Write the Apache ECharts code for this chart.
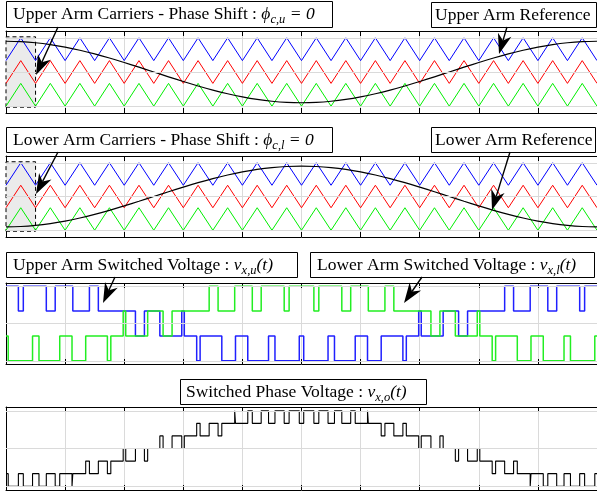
<!DOCTYPE html>
<html><head><meta charset="utf-8">
<script src="https://cdn.jsdelivr.net/npm/echarts@6/dist/echarts.min.js"></script>
<style>html,body{margin:0;padding:0;background:#fff}#c{width:597px;height:497px}</style>
</head><body><div id="c"></div>
<script>
// ---- Data ----
const carrierTimes = [0,0.5,1,1.5,2,2.5,3,3.5,4,4.5,5,5.5,6,6.5,7,7.5,8,8.5,9,9.5,10,10.5,11,11.5,12,12.5,13,13.5,14,14.5,15,15.5,16,16.5,17,17.5,18,18.5,19,19.5,20];
const blueCarrier = [0.333,1,0.333,1,0.333,1,0.333,1,0.333,1,0.333,1,0.333,1,0.333,1,0.333,1,0.333,1,0.333,1,0.333,1,0.333,1,0.333,1,0.333,1,0.333,1,0.333,1,0.333,1,0.333,1,0.333,1,0.333];
const redCarrier = [-0.333,0.333,-0.333,0.333,-0.333,0.333,-0.333,0.333,-0.333,0.333,-0.333,0.333,-0.333,0.333,-0.333,0.333,-0.333,0.333,-0.333,0.333,-0.333,0.333,-0.333,0.333,-0.333,0.333,-0.333,0.333,-0.333,0.333,-0.333,0.333,-0.333,0.333,-0.333,0.333,-0.333,0.333,-0.333,0.333,-0.333];
const greenCarrier = [-1,-0.333,-1,-0.333,-1,-0.333,-1,-0.333,-1,-0.333,-1,-0.333,-1,-0.333,-1,-0.333,-1,-0.333,-1,-0.333,-1,-0.333,-1,-0.333,-1,-0.333,-1,-0.333,-1,-0.333,-1,-0.333,-1,-0.333,-1,-0.333,-1,-0.333,-1,-0.333,-1];
const refTimes = [0,0.5,1,1.5,2,2.5,3,3.5,4,4.5,5,5.5,6,6.5,7,7.5,8,8.5,9,9.5,10,10.5,11,11.5,12,12.5,13,13.5,14,14.5,15,15.5,16,16.5,17,17.5,18,18.5,19,19.5,20];
const upperRef = [0.9,0.889,0.856,0.802,0.728,0.636,0.529,0.409,0.278,0.141,0,-0.141,-0.278,-0.409,-0.529,-0.636,-0.728,-0.802,-0.856,-0.889,-0.9,-0.889,-0.856,-0.802,-0.728,-0.636,-0.529,-0.409,-0.278,-0.141,0,0.141,0.278,0.409,0.529,0.636,0.728,0.802,0.856,0.889,0.9];
const lowerRef = [-0.9,-0.889,-0.856,-0.802,-0.728,-0.636,-0.529,-0.409,-0.278,-0.141,0,0.141,0.278,0.409,0.529,0.636,0.728,0.802,0.856,0.889,0.9,0.889,0.856,0.802,0.728,0.636,0.529,0.409,0.278,0.141,0,-0.141,-0.278,-0.409,-0.529,-0.636,-0.728,-0.802,-0.856,-0.889,-0.9];
const upperArmTimes = [0,0.419,0.586,1.364,1.665,2.261,2.823,3.125,4.38,4.684,5.206,5.948,6.034,6.453,6.569,7.303,7.766,8.182,8.884,9.102,9.925,10.075,10.898,11.116,11.818,12.234,12.697,13.431,13.547,13.966,14.052,14.794,15.316,15.62,16.875,17.177,17.739,18.335,18.636,19.414,19.581,20];
const upperArmLevels = [3,2,3,2,3,2,3,2,1,2,1,2,1,0,1,0,1,0,1,0,1,0,1,0,1,0,1,0,1,2,1,2,1,2,3,2,3,2,3,2,3,3];
const lowerArmTimes = [0,0.075,0.898,1.116,1.818,2.234,2.697,3.431,3.547,3.966,4.052,4.794,5.316,5.62,6.875,7.177,7.739,8.335,8.636,9.414,9.581,10.419,10.586,11.364,11.665,12.261,12.823,13.125,14.38,14.684,15.206,15.948,16.034,16.453,16.569,17.303,17.766,18.182,18.884,19.102,19.925,20];
const lowerArmLevels = [1,0,1,0,1,0,1,0,1,2,1,2,1,2,3,2,3,2,3,2,3,2,3,2,3,2,3,2,1,2,1,2,1,0,1,0,1,0,1,0,1,1];
const phaseTimes = [0,0.075,0.419,0.586,0.898,1.116,1.364,1.665,1.818,2.234,2.261,2.697,2.823,3.125,3.431,3.547,3.966,4.052,4.38,4.684,4.794,5.206,5.316,5.62,5.948,6.034,6.453,6.569,6.875,7.177,7.303,7.739,7.766,8.182,8.335,8.636,8.884,9.102,9.414,9.581,9.925,10.075,10.419,10.586,10.898,11.116,11.364,11.665,11.818,12.234,12.261,12.697,12.823,13.125,13.431,13.547,13.966,14.052,14.38,14.684,14.794,15.206,15.316,15.62,15.948,16.034,16.453,16.569,16.875,17.177,17.303,17.739,17.766,18.182,18.335,18.636,18.884,19.102,19.414,19.581,19.925,20];
const phaseLevels = [-2,-3,-2,-3,-2,-3,-2,-3,-2,-3,-2,-1,-2,-1,-2,-1,0,-1,0,-1,0,1,0,1,0,1,2,1,2,1,2,3,2,3,2,3,2,3,2,3,2,3,2,3,2,3,2,3,2,3,2,1,2,1,2,1,0,1,0,1,0,-1,0,-1,0,-1,-2,-1,-2,-1,-2,-3,-2,-3,-2,-3,-2,-3,-2,-3,-2,-2];
const carrierTicks = [-1,0,1];
const armTicks = [0,1.5,3];
const phaseTicks = [-3,0,3];

// ---- Chart ----
const zip = (xs, ys) => xs.map((x, i) => [x, ys[i]]);
const FONT = '"Liberation Serif","Times New Roman",serif';
const FS = 17.5;
const GRIDC = '#dadada';
const grids = [
  {left: 6, top: 31, width: 593, height: 82},
  {left: 6, top: 156, width: 593, height: 81},
  {left: 6, top: 283, width: 593, height: 81},
  {left: 6, top: 407, width: 593, height: 83}
];
const yRanges = [[-1.2, 1.2, carrierTicks], [-1.2, 1.2, carrierTicks], [-0.13, 3.13, armTicks], [-3.3, 3.3, phaseTicks]];
const xAxis = [], yAxis = [];
grids.forEach((g, gi) => {
  ['bottom', 'top'].forEach((pos, k) => {
    xAxis.push({gridIndex: gi, type: 'value', min: 0, max: 20, interval: 2, position: pos,
      axisLine: {show: true, onZero: false, lineStyle: {color: '#000', width: 1}},
      axisTick: {show: true, inside: true, length: 5, lineStyle: {color: '#000'}},
      axisLabel: {show: false},
      splitLine: {show: k === 0, lineStyle: {color: GRIDC, width: 1}}});
  });
  ['left', 'right'].forEach((pos) => {
    const r = yRanges[gi];
    yAxis.push({gridIndex: gi, type: 'value', min: r[0], max: r[1], position: pos,
      axisLine: {show: true, onZero: false, lineStyle: {color: '#000', width: 1}},
      axisTick: {show: true, inside: true, length: 5, customValues: r[2], lineStyle: {color: '#000'}},
      axisLabel: {show: false, customValues: r[2]},
      splitLine: {show: false}});
  });
});
function helper(gi, ticks, area) {
  const s = {type: 'line', xAxisIndex: gi * 2, yAxisIndex: gi * 2, data: [], z: 1, silent: true,
    markLine: {silent: true, symbol: ['none', 'none'], label: {show: false},
      lineStyle: {color: GRIDC, type: 'solid', width: 1}, animation: false,
      data: ticks.map(v => ({yAxis: v}))}};
  if (area) {
    s.markArea = {silent: true, itemStyle: {color: '#ebebeb', borderColor: '#000', borderWidth: 1, borderType: [4, 3]},
      data: [[{xAxis: 0, yAxis: -1.03}, {xAxis: 1, yAxis: 1.03}]]};
  }
  return s;
}
function ln(gi, xs, ys, color, width, extra) {
  return Object.assign({type: 'line', xAxisIndex: gi * 2, yAxisIndex: gi * 2, data: zip(xs, ys),
    showSymbol: false, symbol: 'none', z: 3, lineStyle: {color: color, width: width}, animation: false}, extra || {});
}
const BLUE = '#0000ff', RED = '#ff0000', GREEN = '#00ee00';
const series = [
  helper(0, carrierTicks, true),
  ln(0, carrierTimes, blueCarrier, BLUE, 1),
  ln(0, carrierTimes, redCarrier, RED, 1),
  ln(0, carrierTimes, greenCarrier, GREEN, 1),
  ln(0, refTimes, upperRef, '#000', 1.2, {smooth: 0.4, z: 4}),
  helper(1, carrierTicks, true),
  ln(1, carrierTimes, blueCarrier, BLUE, 1),
  ln(1, carrierTimes, redCarrier, RED, 1),
  ln(1, carrierTimes, greenCarrier, GREEN, 1),
  ln(1, refTimes, lowerRef, '#000', 1.2, {smooth: 0.4, z: 4}),
  helper(2, armTicks, false),
  ln(2, upperArmTimes, upperArmLevels, '#2020ff', 1.5, {step: 'end'}),
  ln(2, lowerArmTimes, lowerArmLevels, '#22ee22', 1.5, {step: 'end', z: 4}),
  helper(3, phaseTicks, false),
  ln(3, phaseTimes, phaseLevels, '#000', 1.1, {step: 'end'})
];

// ---- Annotations ----
const rich = {
  i: {fontFamily: FONT, fontSize: FS, fontStyle: 'italic', lineHeight: 24},
  s: {fontFamily: FONT, fontSize: 12.5, fontStyle: 'italic', lineHeight: 12, verticalAlign: 'bottom'},
  n: {fontFamily: FONT, fontSize: FS, lineHeight: 24}
};
function label(x, y, w, h, pad, text) {
  return [
    {type: 'rect', shape: {x: x + 0.5, y: y + 0.5, width: w, height: h}, style: {fill: '#fff', stroke: '#000', lineWidth: 1}, z: 10},
    {type: 'text', x: x + pad, y: y + h / 2 + 0.5, z: 11,
      style: {text: text, rich: rich, fontFamily: FONT, fontSize: FS, fill: '#000', verticalAlign: 'middle', align: 'left'}}
  ];
}
function arrow(x1, y1, x2, y2) {
  const dx = x2 - x1, dy = y2 - y1, len = Math.hypot(dx, dy), ux = dx / len, uy = dy / len, nx = -uy, ny = ux;
  const L = 20, W = 7, N = 14;
  const bx = x2 - ux * L, by = y2 - uy * L;
  return [
    {type: 'line', z: 12, shape: {x1: x1, y1: y1, x2: x2 - ux * N, y2: y2 - uy * N}, style: {stroke: '#000', lineWidth: 1.4}},
    {type: 'polygon', z: 12, shape: {points: [[x2, y2], [bx + nx * W, by + ny * W], [x2 - ux * N, y2 - uy * N], [bx - nx * W, by - ny * W]]}, style: {fill: '#000'}}
  ];
}
const graphic = [].concat(
  label(6, 1, 326, 26, 7, '{n|Upper Arm Carriers - Phase Shift : }{i|ϕ}{s|c,u}{i| = 0}'),
  label(431, 2, 165, 25, 4, '{n|Upper Arm Reference}'),
  label(6, 127, 326, 25, 7, '{n|Lower Arm Carriers - Phase Shift : }{i|ϕ}{s|c,l}{i| = 0}'),
  label(431, 127, 164, 25, 4, '{n|Lower Arm Reference}'),
  label(6, 252, 291, 25, 7, '{n|Upper Arm Switched Voltage : }{i|v}{s|x,u}{i|(t)}'),
  label(310, 252, 284, 25, 7, '{n|Lower Arm Switched Voltage : }{i|v}{s|x,l}{i|(t)}'),
  label(180, 379, 246, 25, 6, '{n|Switched Phase Voltage : }{i|v}{s|x,o}{i|(t)}'),
  arrow(58, 27, 36, 75),
  arrow(507, 27, 499, 54),
  arrow(58, 152, 36, 194),
  arrow(510, 152, 492, 210),
  arrow(115, 277, 103, 303),
  arrow(422, 277, 404, 303)
);

const chart = echarts.init(document.getElementById('c'), null, {renderer: 'canvas'});
chart.setOption({animation: false, backgroundColor: '#fff', grid: grids, xAxis: xAxis, yAxis: yAxis, series: series, graphic: graphic});
</script>
</body></html>
